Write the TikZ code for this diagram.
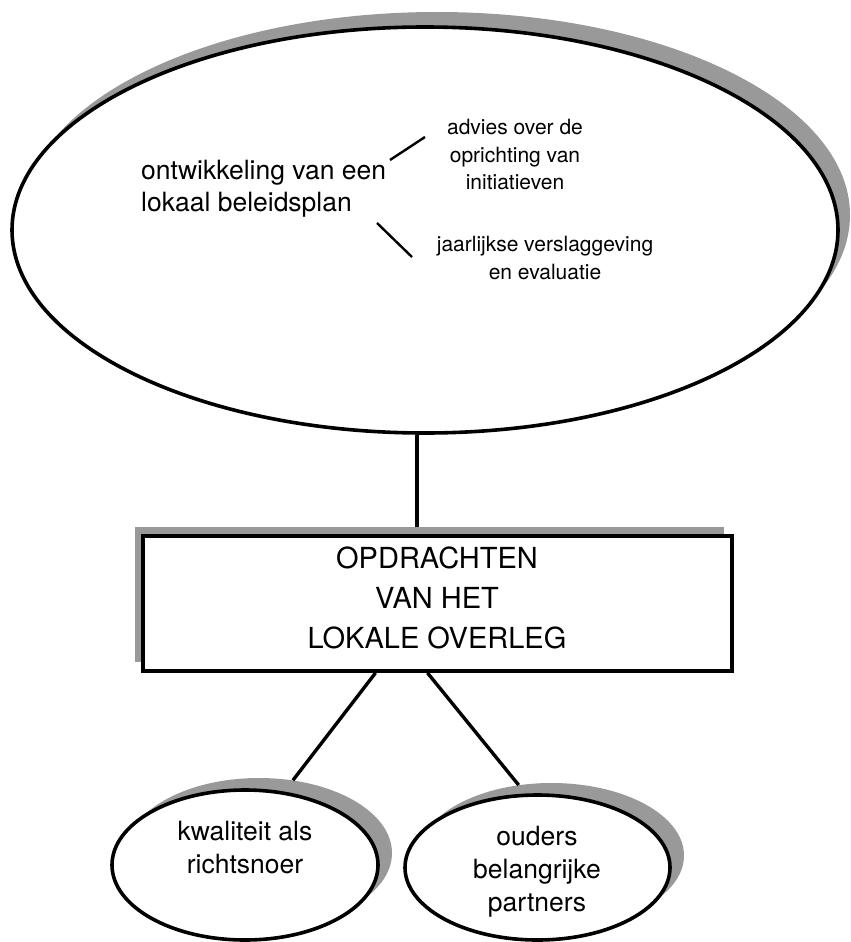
\documentclass[tikz,border=0pt]{standalone}
\usepackage{fontspec}
\setmainfont{TeX Gyre Heros}
\usepackage{tikz}
\usetikzlibrary{shapes.geometric,positioning,calc}
\definecolor{schaduw}{HTML}{999999}

\begin{document}
\begin{tikzpicture}[
    x=1pt,y=1pt,
    ovaal/.style        = {ellipse, draw=black, fill=white, line width=3.6pt, inner sep=0pt},
    schaduwovaal/.style = {ellipse, fill=schaduw, inner sep=0pt},
    blok/.style         = {rectangle, draw=black, fill=white, line width=3.8pt, inner sep=0pt,
                           minimum width=589, minimum height=135},
    blokschaduw/.style  = {rectangle, fill=schaduw, inner sep=0pt,
                           minimum width=589, minimum height=135},
    lijn/.style         = {black, line width=3.4pt},
    streep/.style       = {black, line width=2.4pt},
    grotetekst/.style   = {font=\fontsize{26.5}{32}\selectfont, align=left, inner sep=0pt},
    kleinetekst/.style  = {font=\fontsize{21}{27.5}\selectfont, align=center, inner sep=0pt},
    titeltekst/.style   = {font=\fontsize{29}{40}\selectfont, align=center, inner sep=0pt},
    ovaaltekst/.style   = {font=\fontsize{26.5}{33}\selectfont, align=center, inner sep=0pt},
  ]

  \useasboundingbox (0,0) rectangle (851,-942);

  % grote ovaal
  \node[schaduwovaal, minimum width=826, minimum height=406] (beleidschaduw) at (437,-215) {};
  \node[ovaal, minimum width=826, minimum height=406] (beleid) at (425,-230) {};

  \node[grotetekst, anchor=west] (plan) at (141,-189) {ontwikkeling van een\\lokaal beleidsplan};
  \node[kleinetekst] (advies)  at (515,-155) {advies over de\\oprichting van\\initiatieven};
  \node[kleinetekst] (verslag) at (545,-258) {jaarlijkse verslaggeving\\en evaluatie};

  \coordinate (tak1a) at (390,-160);
  \coordinate (tak1b) at (425,-137);
  \coordinate (tak2a) at (377,-223);
  \coordinate (tak2b) at (412,-257);
  \draw[streep] (tak1a) -- (tak1b);
  \draw[streep] (tak2a) -- (tak2b);

  % opdrachten
  \node[blokschaduw] (opdrschaduw) at (429.5,-594.5) {};
  \node[blok] (opdr) at (437.5,-603.5) {};
  \node[titeltekst] (opdrtekst) at (437,-598) {OPDRACHTEN\\VAN HET\\LOKALE OVERLEG};

  % kleine ovalen
  \node[schaduwovaal, minimum width=266, minimum height=150] (kwalschaduw) at (259,-853) {};
  \node[ovaal, minimum width=266, minimum height=150] (kwal) at (245,-865) {};
  \node[ovaaltekst] (kwaltekst) at (245,-848) {kwaliteit als\\richtsnoer};

  \node[schaduwovaal, minimum width=265, minimum height=145] (oudschaduw) at (551.5,-855.5) {};
  \node[ovaal, minimum width=265, minimum height=145] (oud) at (537.5,-867.5) {};
  \node[ovaaltekst] (oudtekst) at (537,-872) {ouders\\belangrijke\\partners};

  \draw[lijn] ([xshift=-8pt]beleid.south) -- ([xshift=-8pt]beleid.south |- opdrschaduw.north);
  \draw[lijn] ([xshift=-62pt]opdr.south) -- (kwalschaduw.65);
  \draw[lijn] ([xshift=-10pt]opdr.south) -- (oudschaduw.115);

\end{tikzpicture}
\end{document}
